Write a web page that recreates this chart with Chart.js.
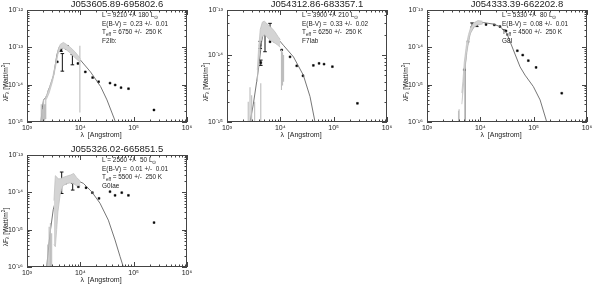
<!DOCTYPE html>
<html><head><meta charset="utf-8">
<script src="https://cdn.jsdelivr.net/npm/chart.js@4.4.1/dist/chart.umd.min.js"></script>
<style>
html,body{margin:0;padding:0;background:#fff;}
body{width:600px;height:286px;position:relative;overflow:hidden;}
canvas{position:absolute;}
</style></head><body>
<canvas id="c0" width="200" height="140" style="left:0;top:0"></canvas>
<canvas id="c1" width="200" height="140" style="left:200px;top:0"></canvas>
<canvas id="c2" width="200" height="140" style="left:400px;top:0"></canvas>
<canvas id="c3" width="200" height="146" style="left:0;top:140px"></canvas>
<script>
// ---------- texts ----------
const titles = ['J053605.89-695802.6','J054312.86-683357.1','J054333.39-662202.8','J055326.02-665851.5'];
const lumText = ['9210 +/- 180','3900 +/- 210','5330 +/-  80','2560 +/-  50'];
const ebvText = ['0.23 +/-  0.01','0.33 +/-  0.02','0.08 +/-  0.01','0.01 +/-  0.01'];
const teffText = ['6750 +/-  250 K','6250 +/-  250 K','4500 +/-  250 K','5500 +/-  250 K'];
const spTypes = ['F2Ib:','F7Iab','G8I','G0Iae'];
const xLabel = 'λ  [Angstrom]';

// ---------- axes ----------
const xTickVals = [1e3,1e4,1e5,1e6];
const xTickLabels = ['10³','10⁴','10⁵','10⁶'];
const yMins = [1e-15, 1e-15, 1e-16, 1e-16];
const yMaxs = [1e-12, 4.7e-14, 1e-13, 1e-13];
const yTickVals1 = [1e-15,1e-14,1e-13,1e-12];
const yTickLabels1 = ['10⁻¹⁵','10⁻¹⁴','10⁻¹³','10⁻¹²'];
const yTickVals2 = [1e-15,1e-14,4.7e-14];
const yTickLabels2 = ['10⁻¹⁵','10⁻¹⁴','10⁻¹³'];
const yTickVals3 = [1e-16,1e-15,1e-14,1e-13];
const yTickLabels3 = ['10⁻¹⁶','10⁻¹⁵','10⁻¹⁴','10⁻¹³'];
const yTickVals4 = [1e-16,1e-15,1e-14,1e-13];
const yTickLabels4 = ['10⁻¹⁶','10⁻¹⁵','10⁻¹⁴','10⁻¹³'];

// ---------- panel 1 ----------
const p1ObsLam  = [3700,4350,5600,9000,12400,17000,22000,36000,45000,58000,80000,240000];
const p1ObsFlux = [4.1e-14,8.5e-14,1.0e-13,3.7e-14,2.2e-14,1.55e-14,1.2e-14,1.1e-14,9.8e-15,8.3e-15,7.8e-15,2.1e-15];
const p1ErrLam = [4350,4600,5600,7100];
const p1ErrLo  = [7.8e-14,2.3e-14,8.8e-14,3.4e-14];
const p1ErrHi  = [9.4e-14,6.8e-14,1.12e-13,6.4e-14];
const p1ModelLam  = [1820,1950,2040,2240,2340,2510,2690,3160,3630,4070,4840,6460,10000,15500,24000,31600,45700];
const p1ModelFlux = [1e-15,2.5e-15,3.9e-15,4.5e-15,4.8e-15,7.1e-15,8.9e-15,1.8e-14,6.3e-14,1.05e-13,1.1e-13,8.5e-14,4.6e-14,2.2e-14,8.9e-15,3.9e-15,1e-15];
const p1GrayLam = [2300,2600,3000,3400,3800,4200,4800,5500,6500,8000,9500,10000];
const p1GrayHi  = [5e-15,8e-15,1.5e-14,3.5e-14,8.5e-14,1.2e-13,1.35e-13,1.2e-13,1.0e-13,7.5e-14,5.5e-14,5e-14];
const p1GrayLo  = [4e-15,6e-15,1.2e-14,2.8e-14,6.5e-14,9e-14,9.5e-14,8.5e-14,7e-14,5.2e-14,4.2e-14,4e-14];
const p1SpikeLam = [1850,1950,2050,2150,2250,9800];
const p1SpikeLo  = [1e-15,1e-15,1e-15,1.1e-15,1.2e-15,1.8e-15];
const p1SpikeHi  = [3e-15,2.2e-15,4e-15,3e-15,5e-15,1.1e-13];

// ---------- panel 2 ----------
const p2ObsLam  = [4200,4300,5160,6410,7940,10600,15200,20300,26600,41600,53200,66000,94600,279000];
const p2ObsFlux = [1.4e-14,7.7e-15,2.1e-14,1.58e-14,1.7e-14,1.19e-14,9.4e-15,6.9e-15,4.9e-15,7.0e-15,7.5e-15,7.3e-15,6.7e-15,1.9e-15];
const p2ErrLam = [4200,4300,5160,6410,7940];
const p2ErrLo  = [1.25e-14,7.0e-15,1.12e-14,2.23e-14,1.58e-14];
const p2ErrHi  = [1.6e-14,8.4e-15,2.5e-14,2.97e-14,1.88e-14];
const p2ModelLam  = [2700,3100,3600,3980,4470,4940,5550,7400,11400,17600,27000,36000,44700];
const p2ModelFlux = [1e-15,1.8e-15,4e-15,7.1e-15,1.6e-14,2.36e-14,2.5e-14,2.1e-14,1.4e-14,9.4e-15,5e-15,2.4e-15,1e-15];
const p2GrayLam = [3700,3900,4200,4600,5000,5500,6200,7000,8000,9000,10000];
const p2GrayHi  = [6e-15,1.2e-14,2.4e-14,3.1e-14,3.2e-14,3.0e-14,2.7e-14,2.5e-14,2.2e-14,1.9e-14,1.7e-14];
const p2GrayLo  = [4e-15,8e-15,1.5e-14,1.9e-14,2.0e-14,1.9e-14,1.7e-14,1.6e-14,1.5e-14,1.4e-14,1.3e-14];
const p2SpikeLam = [2500,2700,2900,3300,4300,10500,11000,11500];
const p2SpikeLo  = [1e-15,1e-15,1e-15,1e-15,1e-15,3e-15,3.5e-15,4e-15];
const p2SpikeHi  = [2e-15,3.3e-15,2.5e-15,2e-15,3.8e-15,1.2e-14,1.1e-14,1.0e-14];

// ---------- panel 3 ----------
const p3ObsLam  = [5010,5870,8560,12800,18300,23400,30300,49400,62300,79400,111000,336000];
const p3ObsFlux = [2.5e-15,1.42e-14,4.0e-14,4.1e-14,4.0e-14,3.6e-14,2.75e-14,8.1e-15,6.2e-15,4.4e-15,2.9e-15,5.9e-16];
const p3ErrLam = [7000,8560];
const p3ErrLo  = [3.5e-14,3.6e-14];
const p3ErrHi  = [4.5e-14,4.6e-14];
const p3ModelLam  = [5160,5180,5560,6410,7940,11400,17500,23400,31300,41600,55600,68900,98600,132000,176000];
const p3ModelFlux = [1e-16,3e-15,8.5e-15,2.4e-14,4e-14,4.6e-14,4.2e-14,3.6e-14,2.4e-14,8.5e-15,3.0e-15,1.8e-15,8.9e-16,3.9e-16,1e-16];
const p3GrayLam = [4500,4700,5000,5500,6000,6500,7500,9000,11000];
const p3GrayHi  = [6e-16,1.2e-15,4e-15,1.2e-14,2.2e-14,3.2e-14,4.5e-14,5.2e-14,5e-14];
const p3GrayLo  = [3e-16,6e-16,1.8e-15,6e-15,1.4e-14,2.3e-14,3.4e-14,4e-14,4.2e-14];
const p3SpikeLam = [3900,4000];
const p3SpikeLo  = [1e-16,1e-16];
const p3SpikeHi  = [2e-16,2.2e-16];

// ---------- panel 4 ----------
const p4ObsLam  = [3700,4470,5560,9180,12800,16800,22400,36000,44800,59800,79700,241000];
const p4ObsFlux = [5.6e-15,1.74e-14,1.93e-14,1.41e-14,1.33e-14,9.8e-15,6.9e-15,1.04e-14,8.3e-15,9.8e-15,8.3e-15,1.55e-15];
const p4ErrLam = [4470,5200,7190];
const p4ErrLo  = [9.3e-15,1.7e-14,1.15e-14];
const p4ErrHi  = [3.5e-14,2.2e-14,1.74e-14];
const p4ModelLam  = [2340,2700,3100,3600,4470,5960,7940,11400,16300,23400,33500,44700,55600,64100];
const p4ModelFlux = [1e-16,7.9e-16,3.4e-15,7.6e-15,1.58e-14,2.14e-14,2.2e-14,1.74e-14,1.04e-14,5.1e-15,1.8e-15,5.3e-16,1.9e-16,1e-16];
const p4GrayLam = [3200,3400,3600,3800,4200,4700,5500,6500,7500,8500,10000];
const p4GrayHi  = [6e-15,2.8e-14,2.6e-14,2.3e-14,2.3e-14,2.5e-14,2.7e-14,2.9e-14,3.2e-14,2.5e-14,2e-14];
const p4GrayLo  = [4e-16,3.5e-16,1e-15,3e-15,9e-15,1.5e-14,1.7e-14,1.8e-14,1.7e-14,1.5e-14,1.5e-14];
const p4SpikeLam = [2450,2600,2750,2900];
const p4SpikeLo  = [1e-16,1e-16,1e-16,1e-16];
const p4SpikeHi  = [4e-16,1.2e-15,1.5e-15,8e-16];

// ---------- build ----------
const panels = [
  {obs:[p1ObsLam,p1ObsFlux], err:[p1ErrLam,p1ErrLo,p1ErrHi], model:[p1ModelLam,p1ModelFlux], gray:[p1GrayLam,p1GrayHi,p1GrayLo], spike:[p1SpikeLam,p1SpikeLo,p1SpikeHi], yt:[yTickVals1,yTickLabels1]},
  {obs:[p2ObsLam,p2ObsFlux], err:[p2ErrLam,p2ErrLo,p2ErrHi], model:[p2ModelLam,p2ModelFlux], gray:[p2GrayLam,p2GrayHi,p2GrayLo], spike:[p2SpikeLam,p2SpikeLo,p2SpikeHi], yt:[yTickVals2,yTickLabels2]},
  {obs:[p3ObsLam,p3ObsFlux], err:[p3ErrLam,p3ErrLo,p3ErrHi], model:[p3ModelLam,p3ModelFlux], gray:[p3GrayLam,p3GrayHi,p3GrayLo], spike:[p3SpikeLam,p3SpikeLo,p3SpikeHi], yt:[yTickVals3,yTickLabels3]},
  {obs:[p4ObsLam,p4ObsFlux], err:[p4ErrLam,p4ErrLo,p4ErrHi], model:[p4ModelLam,p4ModelFlux], gray:[p4GrayLam,p4GrayHi,p4GrayLo], spike:[p4SpikeLam,p4SpikeLo,p4SpikeHi], yt:[yTickVals4,yTickLabels4]}
];

const FONT = '"Liberation Sans", Arial, Helvetica, sans-serif';
Chart.defaults.font.family = FONT;
Chart.defaults.color = '#222';

function pts(xs, ys){ return xs.map((x,k)=>({x:x, y:ys[k]})); }
function segs(xs, lo, hi){ return xs.flatMap((x,k)=>[{x:x,y:lo[k]},{x:x,y:hi[k]},{x:x,y:null}]); }

function rich(ctx, parts, x, y, size, align){
  let widths = parts.map(p=>{ ctx.font = (p[1]? size*0.72 : size)+'px '+FONT; return ctx.measureText(p[0]).width; });
  let total = widths.reduce((a,b)=>a+b,0);
  let cx = align==='center' ? x - total/2 : x;
  ctx.textBaseline = 'middle'; ctx.textAlign = 'left';
  parts.forEach((p,k)=>{
    ctx.font = (p[1]? size*0.72 : size)+'px '+FONT;
    let dy = p[1]===1 ? size*0.3 : (p[1]===2 ? -size*0.35 : 0);
    ctx.fillText(p[0], cx, y+dy);
    cx += widths[k];
  });
}

function minorTicks(min,max){
  const out=[];
  for(let d=Math.floor(Math.log10(min))-1; d<=Math.ceil(Math.log10(max)); d++){
    for(let m=1;m<10;m++){ const v=m*Math.pow(10,d); if(v>=min*0.999 && v<=max*1.001) out.push([v,m===1]); }
  }
  return out;
}

const deco = {
  id:'deco',
  afterDatasetsDraw(chart, args, o){
    const ctx = chart.ctx, a = chart.chartArea, xs = chart.scales.x, ys = chart.scales.y;
    ctx.save();
    ctx.strokeStyle = '#444'; ctx.lineWidth = 1;
    ctx.strokeRect(Math.round(a.left)+0.5, Math.round(a.top)+0.5, Math.round(a.right-a.left)-1, Math.round(a.bottom-a.top)-1);
    ctx.beginPath();
    minorTicks(xs.min, xs.max).forEach(([v,maj])=>{
      const px = Math.round(xs.getPixelForValue(v))+0.5, L = maj?5:2.5;
      ctx.moveTo(px,a.bottom); ctx.lineTo(px,a.bottom-L);
      ctx.moveTo(px,a.top); ctx.lineTo(px,a.top+L);
    });
    minorTicks(ys.min, ys.max).forEach(([v,maj])=>{
      const py = Math.round(ys.getPixelForValue(v))+0.5, L = maj?5:2.5;
      ctx.moveTo(a.left,py); ctx.lineTo(a.left+L,py);
      ctx.moveTo(a.right,py); ctx.lineTo(a.right-L,py);
    });
    ctx.stroke();
    ctx.restore();
  },
  afterDraw(chart, args, o){
    const i = o.idx, ctx = chart.ctx, a = chart.chartArea;
    ctx.save();
    ctx.fillStyle = '#222';
    rich(ctx, [[titles[i],0]], 117, a.top-6, 9.5, 'center');
    const sx = 102, sy = a.top + 5.5, dl = 8.5, fs = 6.4;
    rich(ctx, [['L = '+lumText[i]+' L',0],['⊙',1]], sx, sy, fs);
    rich(ctx, [['E(B-V) =  '+ebvText[i],0]], sx, sy+dl, fs);
    rich(ctx, [['T',0],['eff',1],[' = '+teffText[i],0]], sx, sy+2*dl, fs);
    rich(ctx, [[spTypes[i],0]], sx, sy+3*dl, fs);
    rich(ctx, [[xLabel,0]], 101, a.bottom+13, 7, 'center');
    ctx.translate(6, a.top+72);
    ctx.rotate(-Math.PI/2);
    rich(ctx, [['λF',0],['λ',1],[' [Watt/m',0],['2',2],[']',0]], 0, 0, 6.6, 'center');
    ctx.restore();
  }
};

panels.forEach((p,i)=>{
  const top = i===3 ? 15 : 10;
  const xh = i===3 ? 19 : 18;
  new Chart(document.getElementById('c'+i), {
    type:'line',
    data:{ datasets:[
      {data:pts(p.gray[0],p.gray[1]), borderColor:'#c2c2c2', borderWidth:0.8, pointRadius:0, fill:false},
      {data:pts(p.gray[0],p.gray[2]), borderColor:'#c2c2c2', borderWidth:0.8, pointRadius:0, fill:'-1', backgroundColor:'#d4d4d4'},
      {data:segs(p.spike[0],p.spike[1],p.spike[2]), borderColor:'#bdbdbd', borderWidth:1.1, pointRadius:0, spanGaps:false},
      {data:pts(p.model[0],p.model[1]), borderColor:'#666', borderWidth:0.9, pointRadius:0},
      {data:segs(p.err[0],p.err[1],p.err[2]), borderColor:'#111', borderWidth:1, spanGaps:false,
        pointStyle:'line', pointRadius:1.8, pointBorderColor:'#111', pointBorderWidth:1},
      {data:pts(p.obs[0],p.obs[1]), showLine:false, pointStyle:'rect', pointRadius:1.3,
        pointBackgroundColor:'#000', pointBorderColor:'#000', pointBorderWidth:0.5}
    ]},
    options:{
      responsive:false, animation:false, devicePixelRatio:1, events:[],
      layout:{padding:{left:0, top:top, right:13, bottom:0}},
      elements:{line:{tension:0}},
      plugins:{legend:{display:false}, tooltip:{enabled:false}, deco:{idx:i}},
      scales:{
        x:{type:'logarithmic', min:1e3, max:1e6, position:'bottom',
           grid:{display:false, drawTicks:false}, border:{display:false},
           afterBuildTicks:s=>{ s.ticks = xTickVals.map(v=>({value:v})); },
           afterFit:s=>{ s.height = xh; },
           ticks:{autoSkip:false, maxRotation:0, padding:2, font:{size:7}, color:'#222',
             callback:(v,k)=>xTickLabels[k]}},
        y:{type:'logarithmic', min:yMins[i], max:yMaxs[i], position:'left',
           grid:{display:false, drawTicks:false}, border:{display:false},
           afterBuildTicks:s=>{ s.ticks = p.yt[0].map(v=>({value:v})); },
           afterFit:s=>{ s.width = 27; },
           ticks:{autoSkip:false, padding:4, font:{size:7}, color:'#222',
             callback:(v,k)=>p.yt[1][k]}}
      }
    },
    plugins:[deco]
  });
});
</script>
</body></html>
